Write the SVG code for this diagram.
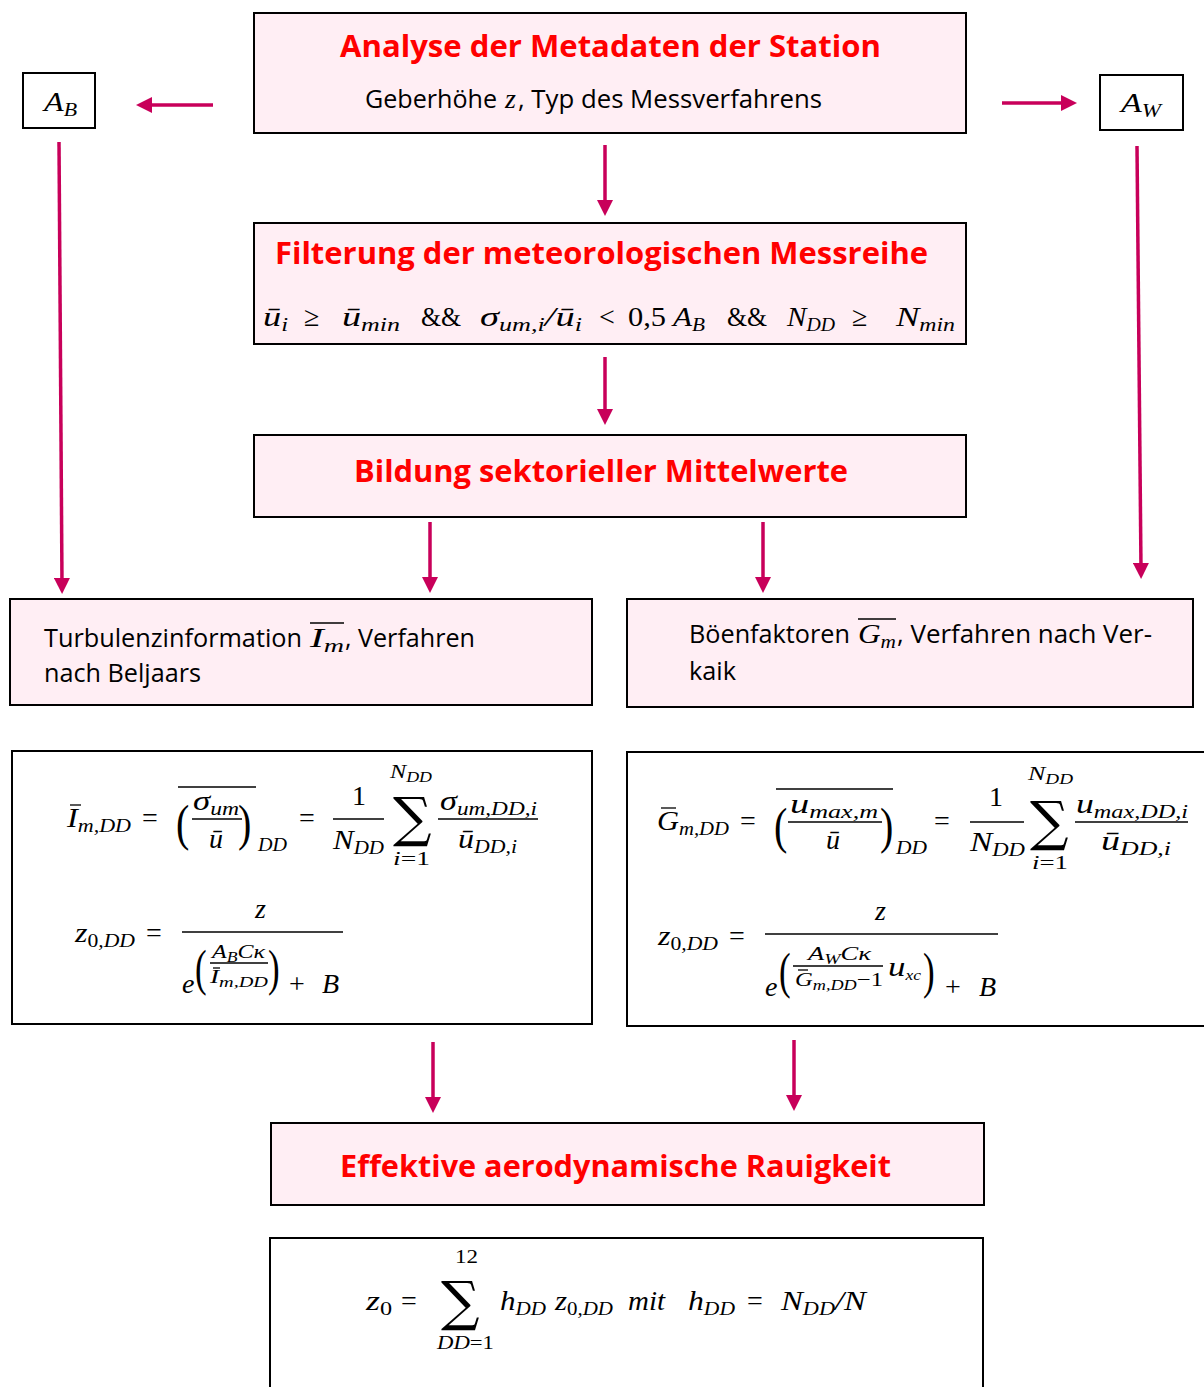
<svg xmlns="http://www.w3.org/2000/svg" width="1204" height="1387" viewBox="0 0 1204 1387">
<defs>
<marker id="ah" viewBox="0 0 16 16" refX="6" refY="8" markerWidth="16" markerHeight="16" markerUnits="userSpaceOnUse" orient="auto">
<path d="M0,0 L16,8 L0,16 z" fill="#C8005A"/>
</marker>
<style>
.box{fill:#FFEEF4;stroke:#000;stroke-width:2}
.wbox{fill:#FFFFFF;stroke:#000;stroke-width:2}
.title{font-family:"Open Sans","Noto Sans",sans-serif;font-weight:700;fill:#FF0000;font-size:30px}
.txt{font-family:"Open Sans","Noto Sans",sans-serif;font-size:25px;fill:#000}
.m{font-family:"Liberation Serif","DejaVu Serif",serif;font-style:italic;font-size:28px;fill:#000}
.u{font-family:"Liberation Serif","DejaVu Serif",serif;font-size:28px;fill:#000}
.s{font-size:19px}
.ss{font-size:14px}
.sm{font-size:19px}
.sum{font-family:"DejaVu Serif","Liberation Serif",serif;font-size:54px;fill:#000}
.par{font-family:"Liberation Serif",serif;font-size:50px;fill:#000}
.fl{stroke:#000;stroke-width:1.3}
.conn{stroke:#C8005A;stroke-width:3.5;fill:none;marker-end:url(#ah)}
</style>
</defs>
<rect width="1204" height="1387" fill="#FFFFFF"/>

<g id="connectors">
<line class="conn" x1="213" y1="105" x2="146" y2="105"/>
<line class="conn" x1="1002" y1="103" x2="1067" y2="103"/>
<line class="conn" x1="605" y1="145" x2="605" y2="206"/>
<line class="conn" x1="605" y1="357" x2="605" y2="415"/>
<line class="conn" x1="59" y1="142" x2="62" y2="584"/>
<line class="conn" x1="1137" y1="146" x2="1141" y2="569"/>
<line class="conn" x1="430" y1="522" x2="430" y2="583"/>
<line class="conn" x1="763" y1="522" x2="763" y2="583"/>
<line class="conn" x1="433" y1="1042" x2="433" y2="1103"/>
<line class="conn" x1="794" y1="1040" x2="794" y2="1101"/>
</g>

<g id="analyse">
<rect class="box" x="254" y="13" width="712" height="120"/>
<text class="title" x="340" y="57" textLength="541" lengthAdjust="spacingAndGlyphs">Analyse der Metadaten der Station</text>
<text class="txt" x="365" y="108" textLength="132" lengthAdjust="spacingAndGlyphs">Geberhöhe</text>
<text class="m" x="505" y="108">z</text>
<text class="txt" x="518" y="108" textLength="304" lengthAdjust="spacingAndGlyphs">, Typ des Messverfahrens</text>
</g>

<g id="AB">
<rect class="wbox" x="23" y="73" width="72" height="55"/>
<text class="m" x="44" y="111" textLength="33" lengthAdjust="spacingAndGlyphs">A<tspan class="s" dy="5">B</tspan></text>
</g>

<g id="AW">
<rect class="wbox" x="1100" y="75" width="83" height="55"/>
<text class="m" x="1121" y="112" textLength="40" lengthAdjust="spacingAndGlyphs">A<tspan class="s" dy="5">W</tspan></text>
</g>

<g id="filterung">
<rect class="box" x="254" y="223" width="712" height="121"/>
<text class="title" x="275" y="264" textLength="653" lengthAdjust="spacingAndGlyphs">Filterung der meteorologischen Messreihe</text>
<text class="m" x="263" y="326" textLength="25" lengthAdjust="spacingAndGlyphs">ū<tspan class="s" dy="5">i</tspan></text>
<text class="u" x="304" y="326">≥</text>
<text class="m" x="342" y="326" textLength="58" lengthAdjust="spacingAndGlyphs">ū<tspan class="s" dy="5">min</tspan></text>
<text class="u" x="421" y="326" textLength="40" lengthAdjust="spacingAndGlyphs">&amp;&amp;</text>
<text class="m" x="480" y="326" textLength="102" lengthAdjust="spacingAndGlyphs">σ<tspan class="s" dy="5">um,i</tspan><tspan dy="-5">/ū</tspan><tspan class="s" dy="5">i</tspan></text>
<text class="u" x="599" y="326">&lt;</text>
<text class="u" x="628" y="326" textLength="38" lengthAdjust="spacingAndGlyphs">0,5</text>
<text class="m" x="673" y="326" textLength="32" lengthAdjust="spacingAndGlyphs">A<tspan class="s" dy="5">B</tspan></text>
<text class="u" x="727" y="326" textLength="40" lengthAdjust="spacingAndGlyphs">&amp;&amp;</text>
<text class="m" x="787" y="326" textLength="48" lengthAdjust="spacingAndGlyphs">N<tspan class="s" dy="5">DD</tspan></text>
<text class="u" x="852" y="326">≥</text>
<text class="m" x="896" y="326" textLength="59" lengthAdjust="spacingAndGlyphs">N<tspan class="s" dy="5">min</tspan></text>
</g>

<g id="bildung">
<rect class="box" x="254" y="435" width="712" height="82"/>
<text class="title" x="354" y="482" textLength="494" lengthAdjust="spacingAndGlyphs">Bildung sektorieller Mittelwerte</text>
</g>

<g id="turbulenz">
<rect class="box" x="10" y="599" width="582" height="106"/>
<text class="txt" x="44" y="647" textLength="258" lengthAdjust="spacingAndGlyphs">Turbulenzinformation</text>
<line class="fl" x1="310" y1="623" x2="344" y2="623"/>
<text class="m" x="310" y="647" textLength="34" lengthAdjust="spacingAndGlyphs">I<tspan class="s" dy="5">m</tspan></text>
<text class="txt" x="345" y="647" textLength="130" lengthAdjust="spacingAndGlyphs">, Verfahren</text>
<text class="txt" x="44" y="682" textLength="157" lengthAdjust="spacingAndGlyphs">nach Beljaars</text>
</g>

<g id="boen">
<rect class="box" x="627" y="599" width="566" height="108"/>
<text class="txt" x="689" y="643" textLength="161" lengthAdjust="spacingAndGlyphs">Böenfaktoren</text>
<line class="fl" x1="858" y1="619" x2="896" y2="619"/>
<text class="m" x="858" y="643" textLength="38" lengthAdjust="spacingAndGlyphs">G<tspan class="s" dy="5">m</tspan></text>
<text class="txt" x="897" y="643" textLength="255" lengthAdjust="spacingAndGlyphs">, Verfahren nach Ver-</text>
<text class="txt" x="689" y="680" textLength="47" lengthAdjust="spacingAndGlyphs">kaik</text>
</g>

<g id="formel-beljaars">
<rect class="wbox" x="12" y="751" width="580" height="273"/>
<line class="fl" x1="70" y1="805" x2="81" y2="805"/>
<text class="m" x="67" y="827" textLength="64" lengthAdjust="spacingAndGlyphs">I<tspan class="s" dy="5">m,DD</tspan></text>
<text class="u" x="142" y="827">=</text>
<line class="fl" x1="178" y1="787" x2="256" y2="787"/>
<text class="par" x="176" y="840" transform="translate(176 840) scale(0.8 1) translate(-176 -840)">(</text>
<text class="m" x="193" y="810" textLength="46" lengthAdjust="spacingAndGlyphs">σ<tspan class="s" dy="5">um</tspan></text>
<line class="fl" x1="192" y1="819" x2="242" y2="819"/>
<text class="m" x="209" y="848">ū</text>
<text class="par" x="238" y="840" transform="translate(238 840) scale(0.8 1) translate(-238 -840)">)</text>
<text class="m s" x="258" y="851" textLength="29" lengthAdjust="spacingAndGlyphs">DD</text>
<text class="u" x="299" y="827">=</text>
<text class="u" x="352" y="805">1</text>
<line class="fl" x1="333" y1="819" x2="384" y2="819"/>
<text class="m" x="333" y="849" textLength="51" lengthAdjust="spacingAndGlyphs">N<tspan class="s" dy="5">DD</tspan></text>
<text class="sum" x="393" y="836">∑</text>
<text class="m sm" x="390" y="778" textLength="42" lengthAdjust="spacingAndGlyphs">N<tspan class="ss" dy="4">DD</tspan></text>
<text class="m sm" x="393" y="865" textLength="37" lengthAdjust="spacingAndGlyphs">i<tspan font-style="normal">=1</tspan></text>
<text class="m" x="440" y="810" textLength="97" lengthAdjust="spacingAndGlyphs">σ<tspan class="s" dy="5">um,DD,i</tspan></text>
<line class="fl" x1="438" y1="819" x2="538" y2="819"/>
<text class="m" x="458" y="848" textLength="59" lengthAdjust="spacingAndGlyphs">ū<tspan class="s" dy="5">DD,i</tspan></text>

<text class="m" x="75" y="942" textLength="60" lengthAdjust="spacingAndGlyphs">z<tspan class="s" dy="5"><tspan font-style="normal">0</tspan>,DD</tspan></text>
<text class="u" x="146" y="942">=</text>
<text class="m" x="255" y="918">z</text>
<line class="fl" x1="182" y1="932" x2="343" y2="932"/>
<text class="m" x="182" y="993">e</text>
<text class="par" x="195" y="985" font-size="46" transform="translate(195 985) scale(0.7 1) translate(-195 -985)">(</text>
<text class="m sm" x="212" y="958" textLength="53" lengthAdjust="spacingAndGlyphs">A<tspan class="ss" dy="4">B</tspan><tspan dy="-4">Cκ</tspan></text>
<line class="fl" x1="210" y1="963" x2="268" y2="963"/>
<line class="fl" x1="213" y1="968" x2="220" y2="968"/>
<text class="m sm" x="210" y="983" textLength="58" lengthAdjust="spacingAndGlyphs">I<tspan class="ss" dy="4">m,DD</tspan></text>
<text class="par" x="268" y="985" font-size="46" transform="translate(268 985) scale(0.7 1) translate(-268 -985)">)</text>
<text class="u" x="289" y="993">+</text>
<text class="m" x="322" y="993">B</text>
</g>

<g id="formel-verkaik">
<rect class="wbox" x="627" y="752" width="600" height="274"/>
<line class="fl" x1="661" y1="808" x2="676" y2="808"/>
<text class="m" x="657" y="830" textLength="72" lengthAdjust="spacingAndGlyphs">G<tspan class="s" dy="5">m,DD</tspan></text>
<text class="u" x="740" y="830">=</text>
<line class="fl" x1="776" y1="789" x2="893" y2="789"/>
<text class="par" x="774" y="843" transform="translate(774 843) scale(0.8 1) translate(-774 -843)">(</text>
<text class="m" x="790" y="813" textLength="88" lengthAdjust="spacingAndGlyphs">u<tspan class="s" dy="5">max,m</tspan></text>
<line class="fl" x1="788" y1="822" x2="882" y2="822"/>
<text class="m" x="826" y="849">ū</text>
<text class="par" x="880" y="843" transform="translate(880 843) scale(0.8 1) translate(-880 -843)">)</text>
<text class="m s" x="896" y="854" textLength="31" lengthAdjust="spacingAndGlyphs">DD</text>
<text class="u" x="934" y="830">=</text>
<text class="u" x="989" y="806">1</text>
<line class="fl" x1="970" y1="822" x2="1024" y2="822"/>
<text class="m" x="970" y="851" textLength="55" lengthAdjust="spacingAndGlyphs">N<tspan class="s" dy="5">DD</tspan></text>
<text class="sum" x="1030" y="840">∑</text>
<text class="m sm" x="1028" y="780" textLength="45" lengthAdjust="spacingAndGlyphs">N<tspan class="ss" dy="4">DD</tspan></text>
<text class="m sm" x="1032" y="869" textLength="36" lengthAdjust="spacingAndGlyphs">i<tspan font-style="normal">=1</tspan></text>
<text class="m" x="1076" y="813" textLength="112" lengthAdjust="spacingAndGlyphs">u<tspan class="s" dy="5">max,DD,i</tspan></text>
<line class="fl" x1="1075" y1="822" x2="1188" y2="822"/>
<text class="m" x="1101" y="850" textLength="70" lengthAdjust="spacingAndGlyphs">ū<tspan class="s" dy="5">DD,i</tspan></text>

<text class="m" x="658" y="945" textLength="60" lengthAdjust="spacingAndGlyphs">z<tspan class="s" dy="5"><tspan font-style="normal">0</tspan>,DD</tspan></text>
<text class="u" x="729" y="945">=</text>
<text class="m" x="875" y="920">z</text>
<line class="fl" x1="765" y1="934" x2="998" y2="934"/>
<text class="m" x="765" y="996">e</text>
<text class="par" x="779" y="988" font-size="46" transform="translate(779 988) scale(0.7 1) translate(-779 -988)">(</text>
<text class="m sm" x="808" y="960" textLength="63" lengthAdjust="spacingAndGlyphs">A<tspan class="ss" dy="4">W</tspan><tspan dy="-4">Cκ</tspan></text>
<line class="fl" x1="793" y1="966" x2="883" y2="966"/>
<line class="fl" x1="798" y1="970" x2="808" y2="970"/>
<text class="m sm" x="795" y="986" textLength="88" lengthAdjust="spacingAndGlyphs">G<tspan class="ss" dy="4">m,DD</tspan><tspan font-style="normal" dy="-4">−1</tspan></text>
<text class="m" x="888" y="976" font-size="21" textLength="33" lengthAdjust="spacingAndGlyphs">u<tspan class="ss" dy="4">xc</tspan></text>
<text class="par" x="923" y="988" font-size="46" transform="translate(923 988) scale(0.7 1) translate(-923 -988)">)</text>
<text class="u" x="945" y="996">+</text>
<text class="m" x="979" y="996">B</text>
</g>

<g id="effektiv">
<rect class="box" x="271" y="1123" width="713" height="82"/>
<text class="title" x="340" y="1177" textLength="551" lengthAdjust="spacingAndGlyphs">Effektive aerodynamische Rauigkeit</text>
</g>

<g id="formel-z0">
<rect class="wbox" x="270" y="1238" width="713" height="170"/>
<text class="m" x="366" y="1310" textLength="26" lengthAdjust="spacingAndGlyphs">z<tspan class="s" dy="5" font-style="normal">0</tspan></text>
<text class="u" x="401" y="1310">=</text>
<text class="sum" x="441" y="1320" font-size="58">∑</text>
<text class="u s" x="455" y="1263" textLength="23" lengthAdjust="spacingAndGlyphs">12</text>
<text class="m s" x="437" y="1349" textLength="57" lengthAdjust="spacingAndGlyphs">DD<tspan font-style="normal">=1</tspan></text>
<text class="m" x="500" y="1310" textLength="46" lengthAdjust="spacingAndGlyphs">h<tspan class="s" dy="5">DD</tspan></text>
<text class="m" x="555" y="1310" textLength="58" lengthAdjust="spacingAndGlyphs">z<tspan class="s" dy="5"><tspan font-style="normal">0</tspan>,DD</tspan></text>
<text class="m" x="628" y="1310" textLength="37" lengthAdjust="spacingAndGlyphs">mit</text>
<text class="m" x="688" y="1310" textLength="47" lengthAdjust="spacingAndGlyphs">h<tspan class="s" dy="5">DD</tspan></text>
<text class="u" x="747" y="1310">=</text>
<text class="m" x="781" y="1310" textLength="85" lengthAdjust="spacingAndGlyphs">N<tspan class="s" dy="5">DD</tspan><tspan dy="-5">/N</tspan></text>
</g>
</svg>
